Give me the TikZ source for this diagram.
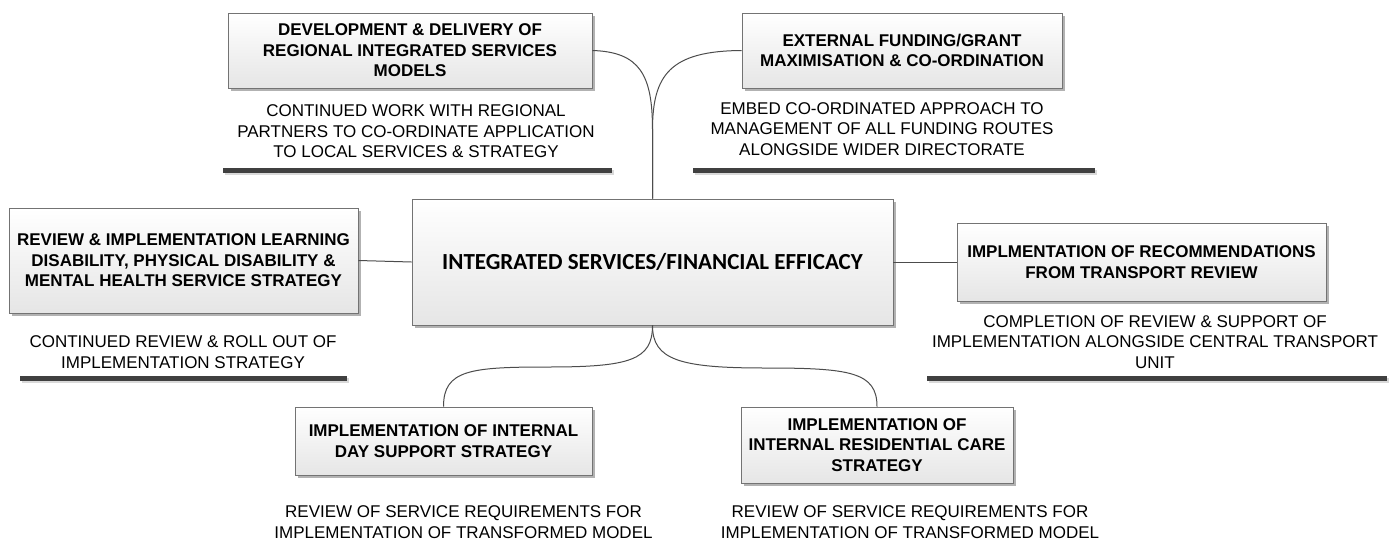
\documentclass[tikz,border=0pt]{standalone}
\usepackage{fontspec}
\setmainfont{Liberation Sans}
\newfontfamily\calfont{Carlito}
\usetikzlibrary{shadows}
\tikzset{
  topicbox/.style={draw=black!55, line width=0.9pt, top color=white, bottom color=black!10,
    align=center, font=\bfseries\fontsize{17}{20.5}\selectfont, inner xsep=2pt,
    drop shadow={shadow xshift=3pt, shadow yshift=-3pt, fill=black!30, opacity=1}},
  desc/.style={align=center, font=\fontsize{17}{20.5}\selectfont, inner sep=0pt},
  bar/.style={fill=black!75, draw=none,
    drop shadow={shadow xshift=1.5pt, shadow yshift=-2pt, fill=black!15, opacity=1}},
  link/.style={draw=black!70, line width=1pt},
}
\begin{document}
\begin{tikzpicture}[x=1pt,y=-1pt]
\useasboundingbox[fill=white] (0,0) rectangle (1400,546);

% topic boxes
\node[topicbox, minimum width=364pt, minimum height=75pt] (b1) at (410,50.5)
  {DEVELOPMENT \& DELIVERY OF\\REGIONAL INTEGRATED SERVICES\\MODELS};
\node[topicbox, minimum width=320pt, minimum height=75pt] (b2) at (902,50.5)
  {EXTERNAL FUNDING/GRANT\\MAXIMISATION \& CO-ORDINATION};
\node[topicbox, minimum width=349pt, minimum height=105pt] (b3) at (183.5,260.5)
  {REVIEW \& IMPLEMENTATION LEARNING\\DISABILITY, PHYSICAL DISABILITY \&\\MENTAL HEALTH SERVICE STRATEGY};
\node[topicbox, minimum width=481pt, minimum height=126pt,
  font=\calfont\bfseries\fontsize{23}{27}\selectfont] (c) at (652.5,262)
  {INTEGRATED SERVICES/FINANCIAL EFFICACY};
\node[topicbox, minimum width=369pt, minimum height=78pt] (b4) at (1141.5,262)
  {IMPLMENTATION OF RECOMMENDATIONS\\FROM TRANSPORT REVIEW};
\node[topicbox, minimum width=297pt, minimum height=68pt] (b5) at (443.5,441)
  {IMPLEMENTATION OF INTERNAL\\DAY SUPPORT STRATEGY};
\node[topicbox, minimum width=272pt, minimum height=76pt] (b6) at (877,445)
  {IMPLEMENTATION OF\\INTERNAL RESIDENTIAL CARE\\STRATEGY};

% descriptions
\node[desc] (d1) at (416,131.5)
  {CONTINUED WORK WITH REGIONAL\\PARTNERS TO CO-ORDINATE APPLICATION\\TO LOCAL SERVICES \& STRATEGY};
\node[desc] (d2) at (882,129)
  {EMBED CO-ORDINATED APPROACH TO\\MANAGEMENT OF ALL FUNDING ROUTES\\ALONGSIDE WIDER DIRECTORATE};
\node[desc] (d3) at (183,352)
  {CONTINUED REVIEW \& ROLL OUT OF\\IMPLEMENTATION STRATEGY};
\node[desc] (d4) at (1155,342)
  {COMPLETION OF REVIEW \& SUPPORT OF\\IMPLEMENTATION ALONGSIDE CENTRAL TRANSPORT\\UNIT};
\node[desc] (d5) at (463.5,522)
  {REVIEW OF SERVICE REQUIREMENTS FOR\\IMPLEMENTATION OF TRANSFORMED MODEL};
\node[desc] (d6) at (910,522)
  {REVIEW OF SERVICE REQUIREMENTS FOR\\IMPLEMENTATION OF TRANSFORMED MODEL};

% underline bars
\path[bar] (223,167.5) rectangle (612,172.5);
\path[bar] (693,167.5) rectangle (1095,172.5);
\path[bar] (20,375.5) rectangle (347,380.5);
\path[bar] (927,375.5) rectangle (1387,380.5);

% connectors
\coordinate (tj) at (652.5,130);
\coordinate (ml) at (548,367);
\coordinate (mr) at (765,368);
\draw[link] (c.north) -- (tj) .. controls (652.5,75) and (640,52) .. (b1.east);
\draw[link] (c.north) -- (tj) .. controls (652.5,75) and (670,51) .. (b2.west);
\draw[link] (b3.east) -- (c.west);
\draw[link] (c.east) -- (b4.west);
\draw[link] (c.south) .. controls (652.5,360) and (630,367) .. (ml)
  .. controls (470,367) and (443.5,370) .. (b5.north);
\draw[link] (c.south) .. controls (652.5,360) and (680,368) .. (mr)
  .. controls (850,368) and (877,372) .. (b6.north);
\end{tikzpicture}
\end{document}
